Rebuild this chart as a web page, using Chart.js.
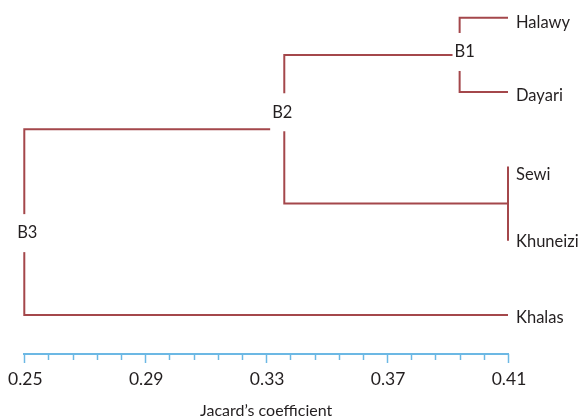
<!DOCTYPE html>
<html>
<head>
<meta charset="utf-8">
<script src="https://cdn.jsdelivr.net/npm/chart.js@4.4.0/dist/chart.umd.min.js"></script>
<style>
  html, body { margin: 0; padding: 0; background: #fff; }
  #wrap { width: 578px; height: 420px; }
</style>
</head>
<body>
<div id="wrap"><canvas id="dendro"></canvas></div>
<script>
// leaves (all sit at the right end of the coefficient axis)
const leafNames = ['Halawy', 'Dayari', 'Sewi', 'Khuneizi', 'Khalas'];
const leafCoef = [0.41, 0.41, 0.41, 0.41, 0.41];
const leafRow = [5, 4, 3, 2, 1];

// merges: node name, shown label, coefficient, row, children
const mergeNames = ['B1', 'SK', 'B2', 'B3'];
const mergeLabels = ['B1', '', 'B2', 'B3'];
const mergeCoef = [0.394, 0.41, 0.336, 0.25];
const mergeRow = [4.5, 2.5, 3.5, 2.25];
const mergeLeft = ['Halawy', 'Sewi', 'B1', 'B2'];
const mergeRight = ['Dayari', 'Khuneizi', 'SK', 'Khalas'];

const xTickLabels = ['0.25', '0.29', '0.33', '0.37', '0.41'];

const lineColor = '#a4474b';
const axisColor = '#6cb8e4';
const textColor = '#231f20';
const fontFamily = 'Lato, "Open Sans", sans-serif';
// small pixel nudges for the text, as in the original figure
const leafLabelDy = { Halawy: 5, Dayari: 4, Sewi: 8, Khuneizi: 1, Khalas: 3 };
const nodeLabelOffset = { B1: [5, -3], B2: [-2, -17], B3: [3, 11] };

const nodePos = {};
leafNames.forEach((n, i) => { nodePos[n] = { x: leafCoef[i], y: leafRow[i] }; });
mergeNames.forEach((n, i) => { nodePos[n] = { x: mergeCoef[i], y: mergeRow[i] }; });

const datasets = mergeNames.map((n, i) => {
  const a = nodePos[mergeLeft[i]], b = nodePos[mergeRight[i]];
  return {
    label: n,
    data: [
      { x: a.x, y: a.y },
      { x: mergeCoef[i], y: a.y },
      { x: mergeCoef[i], y: b.y },
      { x: b.x, y: b.y }
    ],
    showLine: true,
    borderColor: lineColor,
    borderWidth: 2,
    pointRadius: 0,
    pointHoverRadius: 0,
    fill: false,
    tension: 0,
    clip: false
  };
});

const dendroLabels = {
  id: 'dendroLabels',
  afterDraw(chart) {
    const ctx = chart.ctx;
    const xs = chart.scales.x, ys = chart.scales.y;

    // axis ticks: long at labelled values, short between
    ctx.save();
    ctx.strokeStyle = axisColor;
    ctx.lineWidth = 1.5;
    const top = xs.top;
    xs.ticks.forEach((t) => {
      const px = Math.round(xs.getPixelForValue(t.value)) + 0.5;
      const len = t.label ? 9 : 6;
      ctx.beginPath();
      ctx.moveTo(px, top);
      ctx.lineTo(px, top + len);
      ctx.stroke();
    });
    ctx.restore();

    // leaf names
    ctx.save();
    ctx.fillStyle = textColor;
    ctx.font = '16.5px ' + fontFamily;
    ctx.textAlign = 'left';
    ctx.textBaseline = 'middle';
    leafNames.forEach((n, i) => {
      const px = xs.getPixelForValue(leafCoef[i]) + 8;
      const py = ys.getPixelForValue(leafRow[i]) + (leafLabelDy[n] || 0);
      ctx.fillText(n, px, py);
    });

    // node labels with a white gap behind them
    ctx.font = '16.5px ' + fontFamily;
    ctx.textAlign = 'center';
    mergeNames.forEach((n, i) => {
      const lab = mergeLabels[i];
      if (!lab) return;
      const off = nodeLabelOffset[lab] || [0, 0];
      const px = xs.getPixelForValue(mergeCoef[i]) + off[0];
      const py = ys.getPixelForValue(mergeRow[i]) + off[1];
      const w = ctx.measureText(lab).width + 4;
      ctx.fillStyle = '#fff';
      ctx.fillRect(px - w / 2, py - 19, w, 38);
      ctx.fillStyle = textColor;
      ctx.fillText(lab, px, py);
    });
    ctx.restore();
  }
};

new Chart(document.getElementById('dendro').getContext('2d'), {
  type: 'scatter',
  data: { datasets: datasets },
  plugins: [dendroLabels],
  options: {
    responsive: true,
    maintainAspectRatio: false,
    animation: false,
    layout: { padding: { left: 22, right: 70, top: 0, bottom: 0 } },
    plugins: {
      legend: { display: false },
      tooltip: { enabled: false }
    },
    scales: {
      x: {
        type: 'linear',
        position: 'bottom',
        min: 0.25,
        max: 0.41,
        afterFit(scale) { scale.height = 66; },
        grid: {
          display: true,
          drawOnChartArea: false,
          drawTicks: true,
          tickLength: 8,
          color: 'rgba(0,0,0,0)',
          tickColor: 'rgba(0,0,0,0)'
        },
        border: { display: true, color: axisColor, width: 2 },
        ticks: {
          stepSize: 0.008,
          autoSkip: false,
          maxRotation: 0,
          padding: 7,
          labelOffset: 1,
          color: textColor,
          font: { family: fontFamily, size: 17.5 },
          callback(v) {
            const s = Number(v).toFixed(2);
            return (xTickLabels.includes(s) && Math.abs(v - parseFloat(s)) < 1e-6) ? s : '';
          }
        },
        title: {
          display: true,
          text: 'Jacard\u2019s coefficient',
          color: textColor,
          font: { family: fontFamily, size: 16 },
          padding: { top: 0, bottom: 0 }
        }
      },
      y: {
        type: 'linear',
        display: false,
        min: 0.475,
        max: 5.24
      }
    }
  }
});
</script>
</body>
</html>
